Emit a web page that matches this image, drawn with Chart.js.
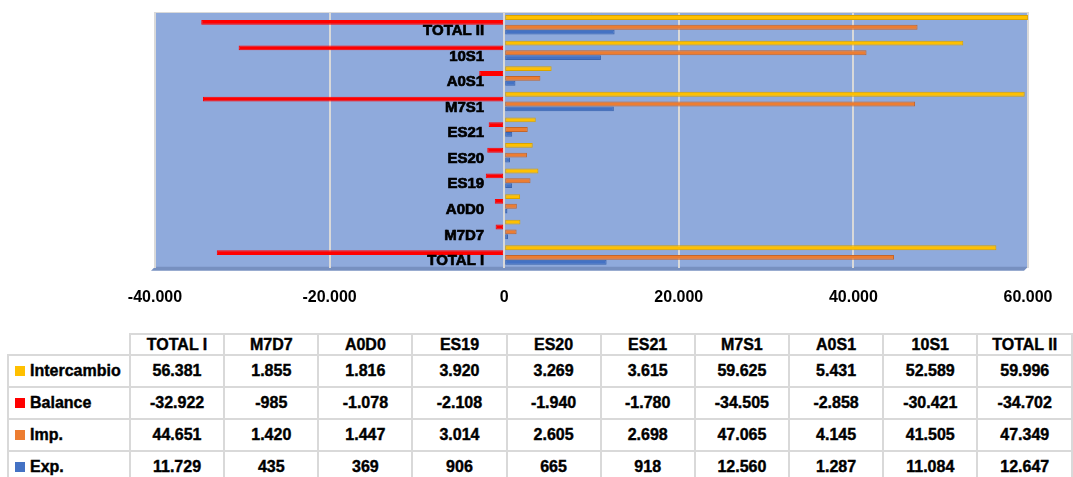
<!DOCTYPE html>
<html>
<head>
<meta charset="utf-8">
<script src="https://cdn.jsdelivr.net/npm/chart.js@4.4.1/dist/chart.umd.min.js"></script>
<style>
  html, body { margin: 0; padding: 0; background: #fff; overflow: hidden; }
  body { width: 1073px; height: 477px; position: relative; font-family: "Liberation Sans", Arial, sans-serif; }
  #wrap { position: absolute; left: 0; top: 0; width: 1073px; height: 338px; }
  #tbl { position: absolute; left: 7px; top: 333px; border-collapse: collapse; table-layout: fixed; background: #fff; }
  #tbl td, #tbl th { border: 2px solid #d9d9d9; font-weight: bold; font-size: 16px; color: #000; text-align: center; padding: 0; white-space: nowrap; overflow: hidden; -webkit-text-stroke: 0.4px #000; }
  #tbl th { height: 19px; }
  #tbl td { height: 30px; }
  #tbl th.corner { border-top: none; border-left: none; }
  #tbl td.lab { text-align: left; padding-left: 6px; }
  .key { display: inline-block; width: 10px; height: 10px; margin-right: 5px; vertical-align: 0px; }
</style>
</head>
<body>
<div id="wrap"><canvas id="chart"></canvas></div>
<table id="tbl"></table>
<script>
// values as listed in the table (left to right)
const categories = ['TOTAL I', 'M7D7', 'A0D0', 'ES19', 'ES20', 'ES21', 'M7S1', 'A0S1', '10S1', 'TOTAL II'];
const intercambio = [56381, 1855, 1816, 3920, 3269, 3615, 59625, 5431, 52589, 59996];
const balance = [-32922, -985, -1078, -2108, -1940, -1780, -34505, -2858, -30421, -34702];
const imp = [44651, 1420, 1447, 3014, 2605, 2698, 47065, 4145, 41505, 47349];
const exp = [11729, 435, 369, 906, 665, 918, 12560, 1287, 11084, 12647];
const xTicks = [-40000, -20000, 0, 20000, 40000, 60000];

const series = [
  { name: 'Intercambio', data: intercambio, color: '#FFC000', edge: '#d9a400' },
  { name: 'Balance', data: balance, color: '#FF0000', edge: '#FF0000' },
  { name: 'Imp.', data: imp, color: '#ED7D31', edge: '#c4652a' },
  { name: 'Exp.', data: exp, color: '#4472C4', edge: '#3a63ac' },
];

// 12345 -> "12.345", -985 -> "-985"
function fmt(v) {
  const s = String(Math.abs(v)).replace(/\B(?=(\d{3})+(?!\d))/g, '.');
  return (v < 0 ? '-' : '') + s;
}

// chart draws TOTAL II at the top, so reverse for the category axis
const labelsTopDown = categories.slice().reverse();

const plotDeco = {
  id: 'plotDeco',
  beforeDraw(chart) {
    const { ctx, chartArea: a } = chart;
    ctx.save();
    ctx.fillStyle = '#8FAADC';
    ctx.fillRect(a.left, a.top, a.right - a.left, a.bottom - a.top);
    // 3d floor strip
    ctx.fillStyle = '#7790c0';
    ctx.beginPath();
    ctx.moveTo(a.left, a.bottom - 1);
    ctx.lineTo(a.right, a.bottom - 1);
    ctx.lineTo(a.right - 4, a.bottom + 3);
    ctx.lineTo(a.left - 4, a.bottom + 3);
    ctx.closePath();
    ctx.fill();
    ctx.strokeStyle = '#d9d9d9';
    ctx.lineWidth = 1;
    ctx.beginPath();
    ctx.moveTo(a.left, a.top + 0.5);
    ctx.lineTo(a.right, a.top + 0.5);
    ctx.stroke();
    ctx.restore();
  },
  afterDatasetsDraw(chart) {
    const { ctx, scales } = chart;
    const x0 = scales.x.getPixelForValue(0) - 20;
    ctx.save();
    ctx.fillStyle = '#000';
    ctx.strokeStyle = '#000';
    ctx.lineWidth = 0.7;
    ctx.font = 'bold 15px "Liberation Sans", Arial, sans-serif';
    ctx.textAlign = 'right';
    ctx.textBaseline = 'middle';
    labelsTopDown.forEach((lab, i) => {
      const y = scales.y.getPixelForValue(i) + 6;
      ctx.fillText(lab, x0, y);
      ctx.strokeText(lab, x0, y);
    });
    ctx.restore();
  }
};

new Chart(document.getElementById('chart').getContext('2d'), {
  type: 'bar',
  data: {
    labels: labelsTopDown,
    datasets: series.map(s => ({
      label: s.name,
      data: s.data.slice().reverse(),
      backgroundColor: s.color,
      borderColor: s.edge,
      borderWidth: 1,
      borderSkipped: false,
      categoryPercentage: 0.76,
      barPercentage: 1.0,
    })),
  },
  options: {
    indexAxis: 'y',
    responsive: true,
    maintainAspectRatio: false,
    animation: false,
    devicePixelRatio: 1,
    layout: { padding: { left: 155, right: 45, top: 12, bottom: 11 } },
    plugins: { legend: { display: false }, tooltip: { enabled: false } },
    scales: {
      x: {
        min: xTicks[0],
        max: xTicks[xTicks.length - 1],
        afterBuildTicks: ax => { ax.ticks = xTicks.map(v => ({ value: v })); },
        ticks: {
          color: '#000',
          padding: 20,
          font: { family: '"Liberation Sans", Arial, sans-serif', size: 16, weight: 'bold' },
          callback: v => fmt(v),
        },
        grid: { color: '#d9d9d9', lineWidth: 2, drawTicks: false },
        border: { display: false },
      },
      y: { display: false },
    },
  },
  plugins: [plotDeco],
});

// data table under the chart
const rows = [
  { name: 'Intercambio', data: intercambio, color: '#FFC000' },
  { name: 'Balance', data: balance, color: '#FF0000' },
  { name: 'Imp.', data: imp, color: '#ED7D31' },
  { name: 'Exp.', data: exp, color: '#4472C4' },
];
let html = '<colgroup><col style="width:122px">' + categories.map(() => '<col style="width:95px">').join('') + '</colgroup>';
html += '<tr><th class="corner"></th>' + categories.map(c => `<th>${c}</th>`).join('') + '</tr>';
html += rows.map(r => `<tr><td class="lab"><span class="key" style="background:${r.color}"></span>${r.name}</td>` +
  r.data.map(v => `<td>${fmt(v)}</td>`).join('') + '</tr>').join('');
document.getElementById('tbl').innerHTML = html;
</script>
</body>
</html>
